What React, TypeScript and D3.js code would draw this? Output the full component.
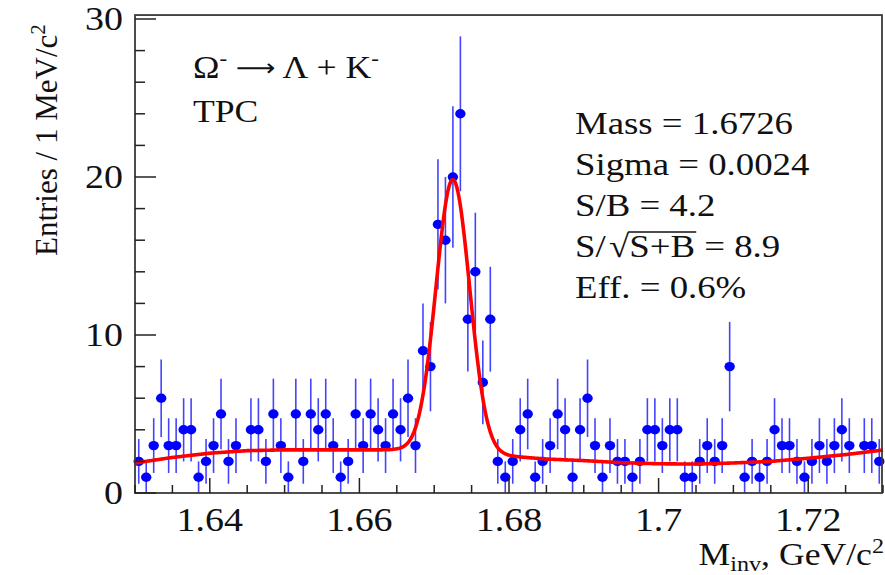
import React, { useEffect, useRef } from 'react';
import * as d3 from 'd3';

// ---- data ----
const massLow = 1.63;
const massHigh = 1.73;
const binWidth = 0.001;
const counts = [
  2, 1, 3, 6, 3, 3, 4, 4, 1, 2,
  3, 5, 2, 3, 0, 4, 4, 2, 5, 3,
  1, 5, 2, 5, 4, 5, 3, 1, 2, 5,
  3, 5, 4, 3, 5, 4, 6, 3, 9, 8,
  17, 16, 20, 24, 11, 14, 7, 11, 2, 1,
  2, 4, 5, 1, 2, 3, 5, 4, 1, 4,
  6, 3, 1, 3, 2, 2, 1, 2, 4, 4,
  3, 4, 4, 1, 1, 2, 3, 2, 3, 8,
  0, 1, 2, 1, 2, 4, 3, 3, 2, 1,
  2, 3, 2, 3, 4, 3, 0, 3, 3, 2,
];
const xMajorTicks = [1.64, 1.66, 1.68, 1.7, 1.72];
const xTickLabels = ['1.64', '1.66', '1.68', '1.7', '1.72'];
const yMajorTicks = [0, 10, 20, 30];
const yTickLabels = ['0', '10', '20', '30'];
// fitted background and Gaussian peak
const bgMass = [1.63, 1.635, 1.64, 1.645, 1.65, 1.665, 1.672, 1.68, 1.685, 1.69, 1.695, 1.7, 1.705, 1.71, 1.715, 1.72, 1.725, 1.73];
const bgLevel = [1.9, 2.25, 2.52, 2.68, 2.73, 2.73, 2.55, 2.33, 2.15, 2.05, 1.92, 1.85, 1.83, 1.9, 2.0, 2.2, 2.43, 2.72];
const peakMass = 1.6725;
const peakSigma = 0.00225;
const peakAmp = 17.3;
const statLines = ['Mass = 1.6726', 'Sigma = 0.0024', 'S/B = 4.2', 'SQRT', 'Eff. = 0.6%'];

const W = 885, H = 575;
const FONT = '"Liberation Serif", "Times New Roman", serif';
const SX = 1.15; // horizontal stretch of the text in the reference

export default function App() {
  const ref = useRef<SVGSVGElement>(null);
  useEffect(() => {
    const svg = d3.select(ref.current);
    svg.selectAll('*').remove();
    const x = d3.scaleLinear().domain([massLow, massHigh]).range([135, 883]);
    const y = d3.scaleLinear().domain([0, 30]).range([493, 19]);
    const left = 135, right = 882, top = y(30.25), bottom = y(0);

    const txt = (px: number, py: number, size: number, anchor = 'start') =>
      svg.append('text').attr('transform', `translate(${px},${py}) scale(${SX},1)`)
        .attr('text-anchor', anchor).attr('font-family', FONT).attr('font-size', size).attr('fill', '#111');

    // data error bars and markers
    const pts = counts.map((c, i) => ({ m: massLow + (i + 0.5) * binWidth, c })).filter(d => d.c > 0);
    const g = svg.append('g');
    g.selectAll('line.ey').data(pts).enter().append('line')
      .attr('x1', d => x(d.m)).attr('x2', d => x(d.m))
      .attr('y1', d => y(d.c - Math.sqrt(d.c))).attr('y2', d => y(d.c + Math.sqrt(d.c)))
      .attr('stroke', '#4343ff').attr('stroke-width', 1.6);
    g.selectAll('line.ex').data(pts).enter().append('line')
      .attr('x1', d => x(d.m - binWidth / 2)).attr('x2', d => x(d.m + binWidth / 2))
      .attr('y1', d => y(d.c)).attr('y2', d => y(d.c))
      .attr('stroke', '#4343ff').attr('stroke-width', 1.6);
    g.selectAll('ellipse').data(pts).enter().append('ellipse')
      .attr('cx', d => x(d.m)).attr('cy', d => y(d.c)).attr('rx', 5.2).attr('ry', 4.7)
      .attr('fill', '#0000ff');

    // fit curve
    const bg = d3.scaleLinear().domain(bgMass).range(bgLevel);
    const fit = (m: number) => bg(m) + peakAmp * Math.exp(-0.5 * ((m - peakMass) / peakSigma) ** 2);
    const ms = d3.range(0, 501).map(k => massLow + (massHigh - massLow) * k / 500);
    svg.append('path')
      .attr('d', d3.line<number>().x(m => x(m)).y(m => y(fit(m))).curve(d3.curveMonotoneX)(ms) || '')
      .attr('fill', 'none').attr('stroke', '#ff0000').attr('stroke-width', 3.6).attr('stroke-linejoin', 'round');

    // frame
    svg.append('rect').attr('x', left).attr('y', top).attr('width', right - left).attr('height', bottom - top)
      .attr('fill', 'none').attr('stroke', '#3a3a3a').attr('stroke-width', 1.8);

    // x ticks
    const xMinor = d3.range(0, 21).map(k => massLow + k * 0.005);
    svg.selectAll('line.xt').data(xMinor).enter().append('line')
      .attr('x1', d => x(d)).attr('x2', d => x(d))
      .attr('y1', bottom).attr('y2', d => bottom - (xMajorTicks.some(t => Math.abs(t - d) < 1e-6) ? 15 : 8))
      .attr('stroke', '#222').attr('stroke-width', 1.5);
    xMajorTicks.forEach((t, i) => txt(x(t), 531, 33, 'middle').text(xTickLabels[i]));
    // y ticks
    const yMinor = d3.range(0, 31, 2);
    svg.selectAll('line.yt').data(yMinor).enter().append('line')
      .attr('x1', left).attr('x2', d => left + (d % 10 === 0 ? 21 : 10))
      .attr('y1', d => y(d)).attr('y2', d => y(d))
      .attr('stroke', '#222').attr('stroke-width', 1.5);
    yMajorTicks.forEach((t, i) => txt(123, y(t) + 11, 33, 'end').text(yTickLabels[i]));

    // axis titles
    const xt = txt(884, 565, 31, 'end');
    xt.append('tspan').text('M');
    xt.append('tspan').attr('font-size', 21).attr('dy', 6).text('inv');
    xt.append('tspan').attr('dy', -6).text(', GeV/c');
    xt.append('tspan').attr('font-size', 21).attr('dy', -12).text('2');

    const yt = svg.append('text').attr('transform', `translate(57,256) rotate(-90)`)
      .attr('font-family', FONT).attr('font-size', 31).attr('fill', '#111');
    yt.append('tspan').text('Entries / 1 MeV/c');
    yt.append('tspan').attr('font-size', 21).attr('dy', -12).text('2');

    // left annotation
    const a1 = txt(193, 78, 31);
    a1.append('tspan').text('Ω');
    a1.append('tspan').attr('font-size', 20).attr('dy', -13).text('-');
    a1.append('tspan').attr('dy', 13).text(' ');
    a1.append('tspan').attr('font-family', '"DejaVu Sans", sans-serif').attr('font-size', 24).attr('dy', -2).text('⟶');
    a1.append('tspan').attr('dy', 2).text(' Λ + K');
    a1.append('tspan').attr('font-size', 20).attr('dy', -13).text('-');
    txt(193, 122, 31).text('TPC');

    // stats
    statLines.forEach((s, i) => {
      const by = 134 + i * 41;
      if (s === 'SQRT') {
        const t = txt(575, by, 32);
        t.append('tspan').text('S/');
        t.append('tspan').attr('dx', 3).text('√');
        t.append('tspan').text('S+B');
        t.append('tspan').text(' = 8.9');
        const node = t.node() as SVGTextElement;
        const start = node.getStartPositionOfChar(3).x;
        const end = node.getEndPositionOfChar(5).x;
        svg.append('line').attr('x1', 575 + (start - 1) * SX).attr('x2', 575 + (end + 1) * SX)
          .attr('y1', by - 25).attr('y2', by - 25)
          .attr('stroke', '#111').attr('stroke-width', 1.5);
      } else {
        txt(575, by, 32).text(s);
      }
    });
  }, []);
  return (
    <svg ref={ref} width={W} height={H} style={{ position: 'absolute', left: 0, top: 0, background: '#fff' }} />
  );
}
